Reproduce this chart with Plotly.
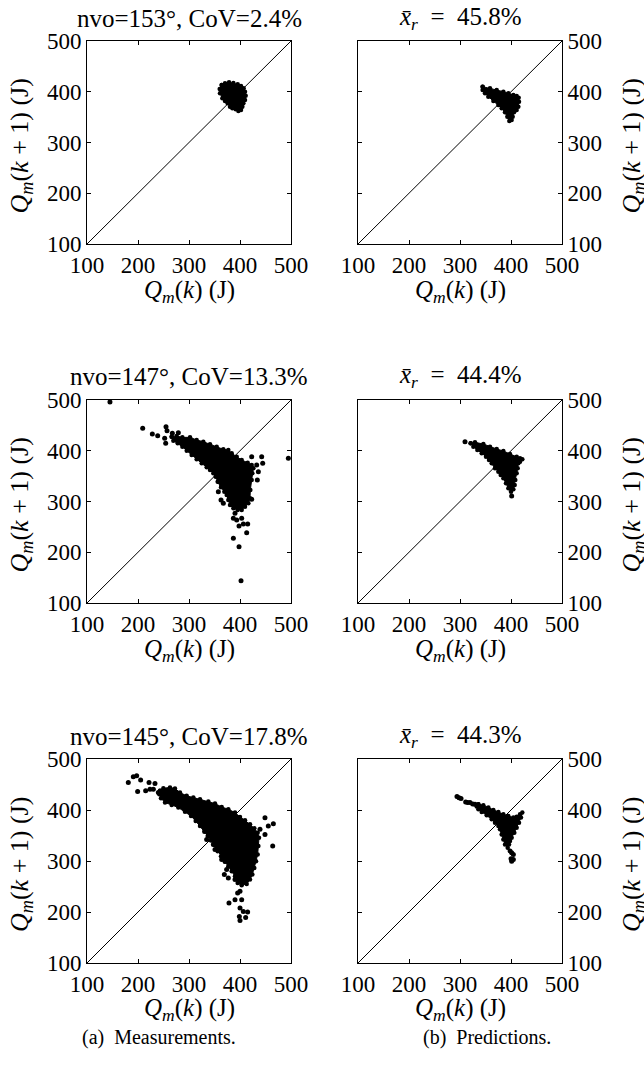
import plotly.graph_objects as go

# ---------------- data ----------------
tick_vals = [100, 200, 300, 400, 500]
tick_text = ["100", "200", "300", "400", "500"]
diag_x = [100, 500]
diag_y = [100, 500]

panel_titles = [
    "nvo=153°, CoV=2.4%",
    "<i>x̄</i><sub><i>r</i></sub>  =  45.8%",
    "nvo=147°, CoV=13.3%",
    "<i>x̄</i><sub><i>r</i></sub>  =  44.4%",
    "nvo=145°, CoV=17.8%",
    "<i>x̄</i><sub><i>r</i></sub>  =  44.3%",
]
x_title = "<i>Q</i><sub><i>m</i></sub>(<i>k</i>) (J)"
y_title = "<i>Q</i><sub><i>m</i></sub>(<i>k</i> + 1) (J)"
captions = ["(a)  Measurements.", "(b)  Predictions."]

# Panel 1: nvo=153 measurements (dense cloud outline)
p1_core_x = [364.1, 370.6, 378.5, 387.0, 395.5, 402.0, 407.2, 409.8, 411.1, 409.8, 406.6, 404.6,
             402.0, 396.8, 391.5, 385.0, 380.4, 375.8, 370.6, 365.4, 360.8, 360.2]
p1_core_y = [413.3, 416.6, 418.5, 417.2, 414.6, 411.3, 406.7, 400.2, 392.3, 383.7, 377.2, 370.6,
             364.0, 362.1, 365.3, 367.3, 370.6, 377.2, 381.8, 387.0, 396.9, 405.4]
p1_pts_x = []
p1_pts_y = []

# Panel 2: predictions, x_r = 45.8%
p2_core_x = [344.4, 358.8, 371.9, 385.0, 394.8, 404.6, 411.1, 415.0, 415.7, 414.4, 411.1, 405.9,
             403.3, 401.3, 396.7, 392.8, 388.2, 381.7, 375.2, 365.4, 355.5, 349.0, 344.4]
p2_core_y = [410.0, 406.7, 403.4, 400.2, 396.9, 393.6, 391.6, 388.3, 380.5, 370.6, 364.0, 359.4,
             350.9, 344.3, 342.4, 350.9, 359.4, 367.3, 373.9, 381.8, 390.3, 396.9, 403.4]
p2_pts_x = []
p2_pts_y = []

# Panel 3: nvo=147 measurements
p3_core_x = [266.0, 275.8, 287.0, 302.0, 315.0, 328.1, 341.2, 354.3, 367.3, 377.1, 383.7, 393.5,
             403.3, 415.1, 422.9, 426.2, 424.2, 422.9, 420.3, 419.6, 416.4, 409.8, 403.3, 395.4,
             387.0, 380.4, 377.1, 373.9, 369.3, 362.8, 356.2, 352.3, 347.7, 341.2, 334.7, 324.9,
             315.0, 305.2, 295.5, 287.0, 277.8, 269.3]
p3_core_y = [427.8, 429.1, 426.4, 426.4, 421.2, 417.9, 412.7, 408.1, 402.8, 401.5, 394.9, 388.3,
             381.8, 376.5, 371.9, 365.4, 355.5, 342.4, 322.7, 306.3, 296.4, 289.8, 283.3, 283.3,
             286.5, 293.1, 303.0, 312.8, 319.4, 327.9, 339.1, 349.0, 355.5, 362.1, 367.3, 375.2,
             383.1, 391.6, 400.2, 408.1, 414.6, 419.9]
p3_pts_x = [145.0, 209.2, 228.1, 238.6, 254.9, 256.9, 252.3, 254.3, 267.3, 279.1, 422.9, 442.5,
            444.5, 432.7, 436.0, 434.0, 422.9, 494.8, 387.0, 390.2, 398.1, 406.6, 415.1, 413.1,
            387.0, 398.1, 402.0, 403.3, 393.5, 357.5, 362.8, 367.3, 358.8, 364.1]
p3_pts_y = [496.0, 444.2, 433.0, 429.7, 447.5, 439.6, 424.5, 414.6, 434.3, 435.6, 388.3, 388.3,
            375.2, 371.9, 358.8, 342.4, 304.3, 385.0, 266.8, 276.7, 251.7, 255.7, 255.7, 238.6,
            227.4, 211.0, 144.0, 266.8, 263.6, 319.4, 302.9, 296.4, 339.1, 330.5]

# Panel 4: predictions, x_r = 44.4%
p4_core_x = [320.9, 329.4, 345.8, 358.8, 371.9, 385.0, 398.0, 411.1, 417.7, 422.2, 417.7, 414.4,
             413.1, 411.1, 408.5, 407.2, 404.6, 400.0, 394.8, 390.2, 385.0, 379.8, 375.2, 368.6,
             362.1, 356.9, 351.0, 342.5, 334.0, 326.2]
p4_core_y = [414.6, 416.6, 413.3, 408.1, 403.5, 399.5, 393.6, 388.4, 385.1, 383.1, 378.5, 375.2,
             365.4, 355.5, 342.4, 332.5, 324.0, 319.4, 326.0, 335.8, 345.7, 352.2, 358.8, 365.4,
             375.2, 381.8, 388.4, 394.9, 401.5, 408.1]
p4_pts_x = [309.8, 401.3]
p4_pts_y = [417.9, 310.8]

# Panel 5: nvo=145 measurements
p5_core_x = [243.1, 249.7, 262.7, 272.5, 282.3, 295.4, 308.5, 321.6, 337.9, 351.0, 364.1, 377.1,
             390.2, 400.0, 409.8, 419.6, 428.1, 434.6, 437.3, 436.0, 434.6, 431.4, 428.1, 424.2,
             419.6, 413.1, 403.3, 395.4, 390.2, 383.7, 377.1, 370.6, 362.7, 356.2, 349.7, 343.1,
             336.6, 330.1, 321.6, 313.1, 303.9, 292.1, 279.1, 266.0, 253.0, 245.1, 241.8]
p5_core_y = [437.6, 442.8, 444.1, 442.2, 434.3, 427.7, 424.4, 421.1, 416.5, 412.6, 406.0, 401.4,
             394.9, 386.3, 379.8, 371.9, 364.0, 355.5, 345.6, 329.2, 312.8, 299.6, 286.5, 273.4,
             263.5, 255.0, 252.3, 256.9, 270.1, 279.9, 289.8, 298.3, 309.5, 319.3, 331.2, 340.4,
             348.9, 357.4, 368.6, 378.4, 388.3, 396.8, 404.7, 410.0, 414.6, 423.1, 431.0]
p5_pts_x = [181.0, 190.8, 197.4, 205.2, 199.3, 221.6, 233.3, 215.0, 223.5, 230.1, 239.9, 449.0,
            465.4, 455.5, 439.2, 449.0, 464.1, 373.8, 369.3, 377.1, 390.2, 395.4, 400.0, 378.4,
            390.2, 403.3, 400.0, 406.5, 415.0, 398.7, 400.0, 411.1, 331.4, 334.6, 347.7, 351.0,
            364.1, 370.6]
p5_pts_y = [454.0, 465.1, 467.1, 458.6, 436.2, 454.0, 452.0, 437.6, 440.8, 440.8, 434.3, 385.0,
            373.2, 368.6, 362.1, 352.2, 329.2, 283.2, 273.4, 266.8, 263.5, 237.2, 240.5, 217.5,
            224.1, 224.1, 207.7, 201.1, 199.8, 191.3, 183.4, 189.3, 358.7, 342.3, 332.5, 322.6,
            302.9, 299.6]

# Panel 6: predictions, x_r = 44.3%
p6_core_x = [336.0, 345.8, 355.6, 365.4, 375.2, 385.0, 394.8, 404.6, 411.1, 417.7, 422.2, 419.6,
             415.7, 411.1, 406.5, 401.3, 398.1, 396.1, 393.5, 388.3, 385.0, 381.7, 378.4, 375.2,
             368.6, 362.1, 352.3, 342.5, 336.0, 332.7]
p6_core_y = [411.3, 409.4, 404.8, 400.2, 396.2, 391.6, 388.3, 385.1, 387.0, 391.6, 394.9, 385.1,
             375.2, 365.4, 355.5, 345.7, 339.1, 332.5, 326.0, 332.5, 342.4, 352.2, 362.1, 368.7,
             375.2, 381.8, 389.7, 396.2, 401.5, 406.7]
p6_pts_x = [294.1, 298.1, 302.0, 311.1, 315.0, 319.6, 324.9, 329.4, 398.1, 401.3, 404.6, 400.0,
            404.6, 401.3]
p6_pts_y = [426.4, 423.8, 422.5, 415.9, 414.6, 414.6, 412.0, 411.3, 319.4, 316.1, 312.8, 304.3,
            303.0, 299.7]

cores = [(p1_core_x, p1_core_y), (p2_core_x, p2_core_y), (p3_core_x, p3_core_y),
         (p4_core_x, p4_core_y), (p5_core_x, p5_core_y), (p6_core_x, p6_core_y)]
scatters = [(p1_pts_x, p1_pts_y), (p2_pts_x, p2_pts_y), (p3_pts_x, p3_pts_y),
            (p4_pts_x, p4_pts_y), (p5_pts_x, p5_pts_y), (p6_pts_x, p6_pts_y)]

# ---------------- layout geometry (pixels in the 644x1068 page) ----------------
W, H = 644, 1068
col_px = [(87, 291), (358, 562)]
row_px = [(41, 244), (400, 603), (759, 963)]
x_title_py = [291, 650, 1009]
FONT = "Liberation Serif"

fig = go.Figure()
annotations = []

def px2x(p):
    return p / W

def px2y(p):
    return 1 - p / H

for i in range(6):
    r, c = divmod(i, 2)
    n = "" if i == 0 else str(i + 1)
    xa, ya = "x" + n, "y" + n
    # diagonal reference line
    fig.add_trace(go.Scatter(x=diag_x, y=diag_y, mode="lines", xaxis=xa, yaxis=ya,
                             line=dict(color="black", width=1), hoverinfo="skip",
                             showlegend=False))
    cx, cy = cores[i]
    fig.add_trace(go.Scatter(x=cx + cx[:1], y=cy + cy[:1], mode="lines+markers",
                             fill="toself", fillcolor="black", xaxis=xa, yaxis=ya,
                             line=dict(color="black", width=1),
                             marker=dict(color="black", size=4.5),
                             showlegend=False))
    sx, sy = scatters[i]
    if sx:
        fig.add_trace(go.Scatter(x=sx, y=sy, mode="markers", xaxis=xa, yaxis=ya,
                                 marker=dict(color="black", size=5),
                                 showlegend=False))
    x0, x1 = col_px[c]
    y0, y1 = row_px[r]
    common = dict(range=[100, 500], tickvals=tick_vals, ticktext=tick_text,
                  ticks="inside", ticklen=4, tickcolor="black", mirror="ticks",
                  showline=True, linecolor="black", linewidth=1, showgrid=False,
                  zeroline=False, automargin=False,
                  tickfont=dict(family=FONT, size=23, color="black"))
    fig.update_layout(**{
        ("xaxis" + n): dict(domain=[px2x(x0), px2x(x1)], anchor=ya, **common),
        ("yaxis" + n): dict(domain=[px2y(y1), px2y(y0)], anchor=xa,
                            side="left" if c == 0 else "right", **common),
    })
    xc = (x0 + x1) / 2
    # panel title
    annotations.append(dict(text=panel_titles[i], x=px2x(xc), y=px2y(y0 - 23),
                            xref="paper", yref="paper", showarrow=False,
                            xanchor="center", yanchor="middle",
                            font=dict(family=FONT, size=25, color="black")))
    # x axis title
    annotations.append(dict(text=x_title, x=px2x(xc), y=px2y(x_title_py[r]),
                            xref="paper", yref="paper", showarrow=False,
                            xanchor="center", yanchor="middle",
                            font=dict(family=FONT, size=25, color="black")))
    # y axis title
    annotations.append(dict(text=y_title, x=px2x(21 if c == 0 else 633),
                            y=px2y((y0 + y1) / 2 + 4), xref="paper", yref="paper",
                            showarrow=False, textangle=-90, xanchor="center",
                            yanchor="middle",
                            font=dict(family=FONT, size=26, color="black")))

annotations.append(dict(text=captions[0], x=px2x(159), y=px2y(1037), xref="paper",
                        yref="paper", showarrow=False, xanchor="center", yanchor="middle",
                        font=dict(family=FONT, size=20, color="black")))
annotations.append(dict(text=captions[1], x=px2x(487), y=px2y(1037), xref="paper",
                        yref="paper", showarrow=False, xanchor="center", yanchor="middle",
                        font=dict(family=FONT, size=20, color="black")))

fig.update_layout(width=W, height=H, margin=dict(l=0, r=0, t=0, b=0),
                  paper_bgcolor="white", plot_bgcolor="white", showlegend=False,
                  annotations=annotations)

fig.write_html("out.html")
